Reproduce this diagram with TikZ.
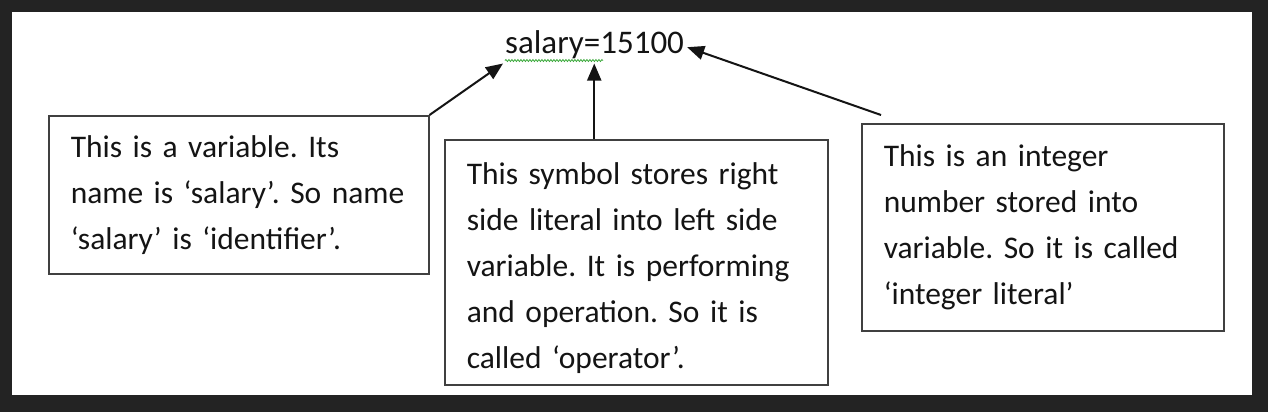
\documentclass[tikz,border=0pt]{standalone}
\usepackage{fontspec}
\setmainfont{Carlito}[WordSpace=0.6]
\usetikzlibrary{arrows.meta,decorations.pathmorphing}
\definecolor{screen}{HTML}{232323}
\definecolor{ink}{HTML}{141414}
\definecolor{boxline}{HTML}{404040}
\definecolor{spellgreen}{HTML}{3DAA3D}
\frenchspacing

\begin{document}
\begin{tikzpicture}[x=1pt,y=-1pt,
   note/.style={draw=boxline, line width=1.5pt, anchor=north west, align=left,
     inner xsep=22pt, inner ysep=0pt, text=ink, font=\fontsize{31.5}{46}\selectfont},
   pointer/.style={draw=ink, line width=2pt, -{Triangle[length=17pt,width=14pt]}}]
   % dark screen round the page
   \fill[screen] (0,0) rectangle (1268,412);
   \fill[white] (12,12) rectangle (1252,395);
   \useasboundingbox (0,0) rectangle (1268,412);

   \node[anchor=base west, inner sep=0pt, text=ink, font=\fontsize{33}{38}\selectfont]
     (expr) at (505,54) {salary=15100};
   \draw[spellgreen, line width=0.8pt, decorate,
     decoration={snake, amplitude=1pt, segment length=3pt}]
     ([yshift=-1pt]expr.south west) -- ++(98,0);

   \node[note, text width=336pt, minimum width=380pt, minimum height=158pt] (varbox) at (48,115)
     {This is a variable. Its\\ name is ‘salary’. So name\\ ‘salary’ is ‘identifier’.};
   % taller first line: text sits a little low in this box
   \node[note, text width=339pt, minimum width=383pt, minimum height=245pt] (opbox) at (444,139)
     {\rule{0pt}{33pt}This symbol stores right\\ side literal into left side\\ variable. It is performing\\
      and operation. So it is\\ called ‘operator’.};
   \node[note, text width=318pt, minimum width=362pt, minimum height=207pt] (litbox) at (861,123)
     {This is an integer\\ number stored into\\ variable. So it is called\\ ‘integer literal’};

   \coordinate (tipvar) at ([xshift=-2pt,yshift=-4pt]expr.south west);
   \coordinate (opfoot) at ([xshift=-42pt]opbox.north);
   \coordinate (litfoot) at ([xshift=20pt,yshift=8pt]litbox.north west);
%  \draw[help lines] (tipvar) circle (3pt);

   \draw[pointer] (varbox.north east) -- (tipvar);
   \draw[pointer] (opfoot) -- (opfoot |- tipvar);
   \draw[pointer] (litfoot) -- ([xshift=3pt,yshift=-2pt]expr.east);
\end{tikzpicture}
\end{document}
